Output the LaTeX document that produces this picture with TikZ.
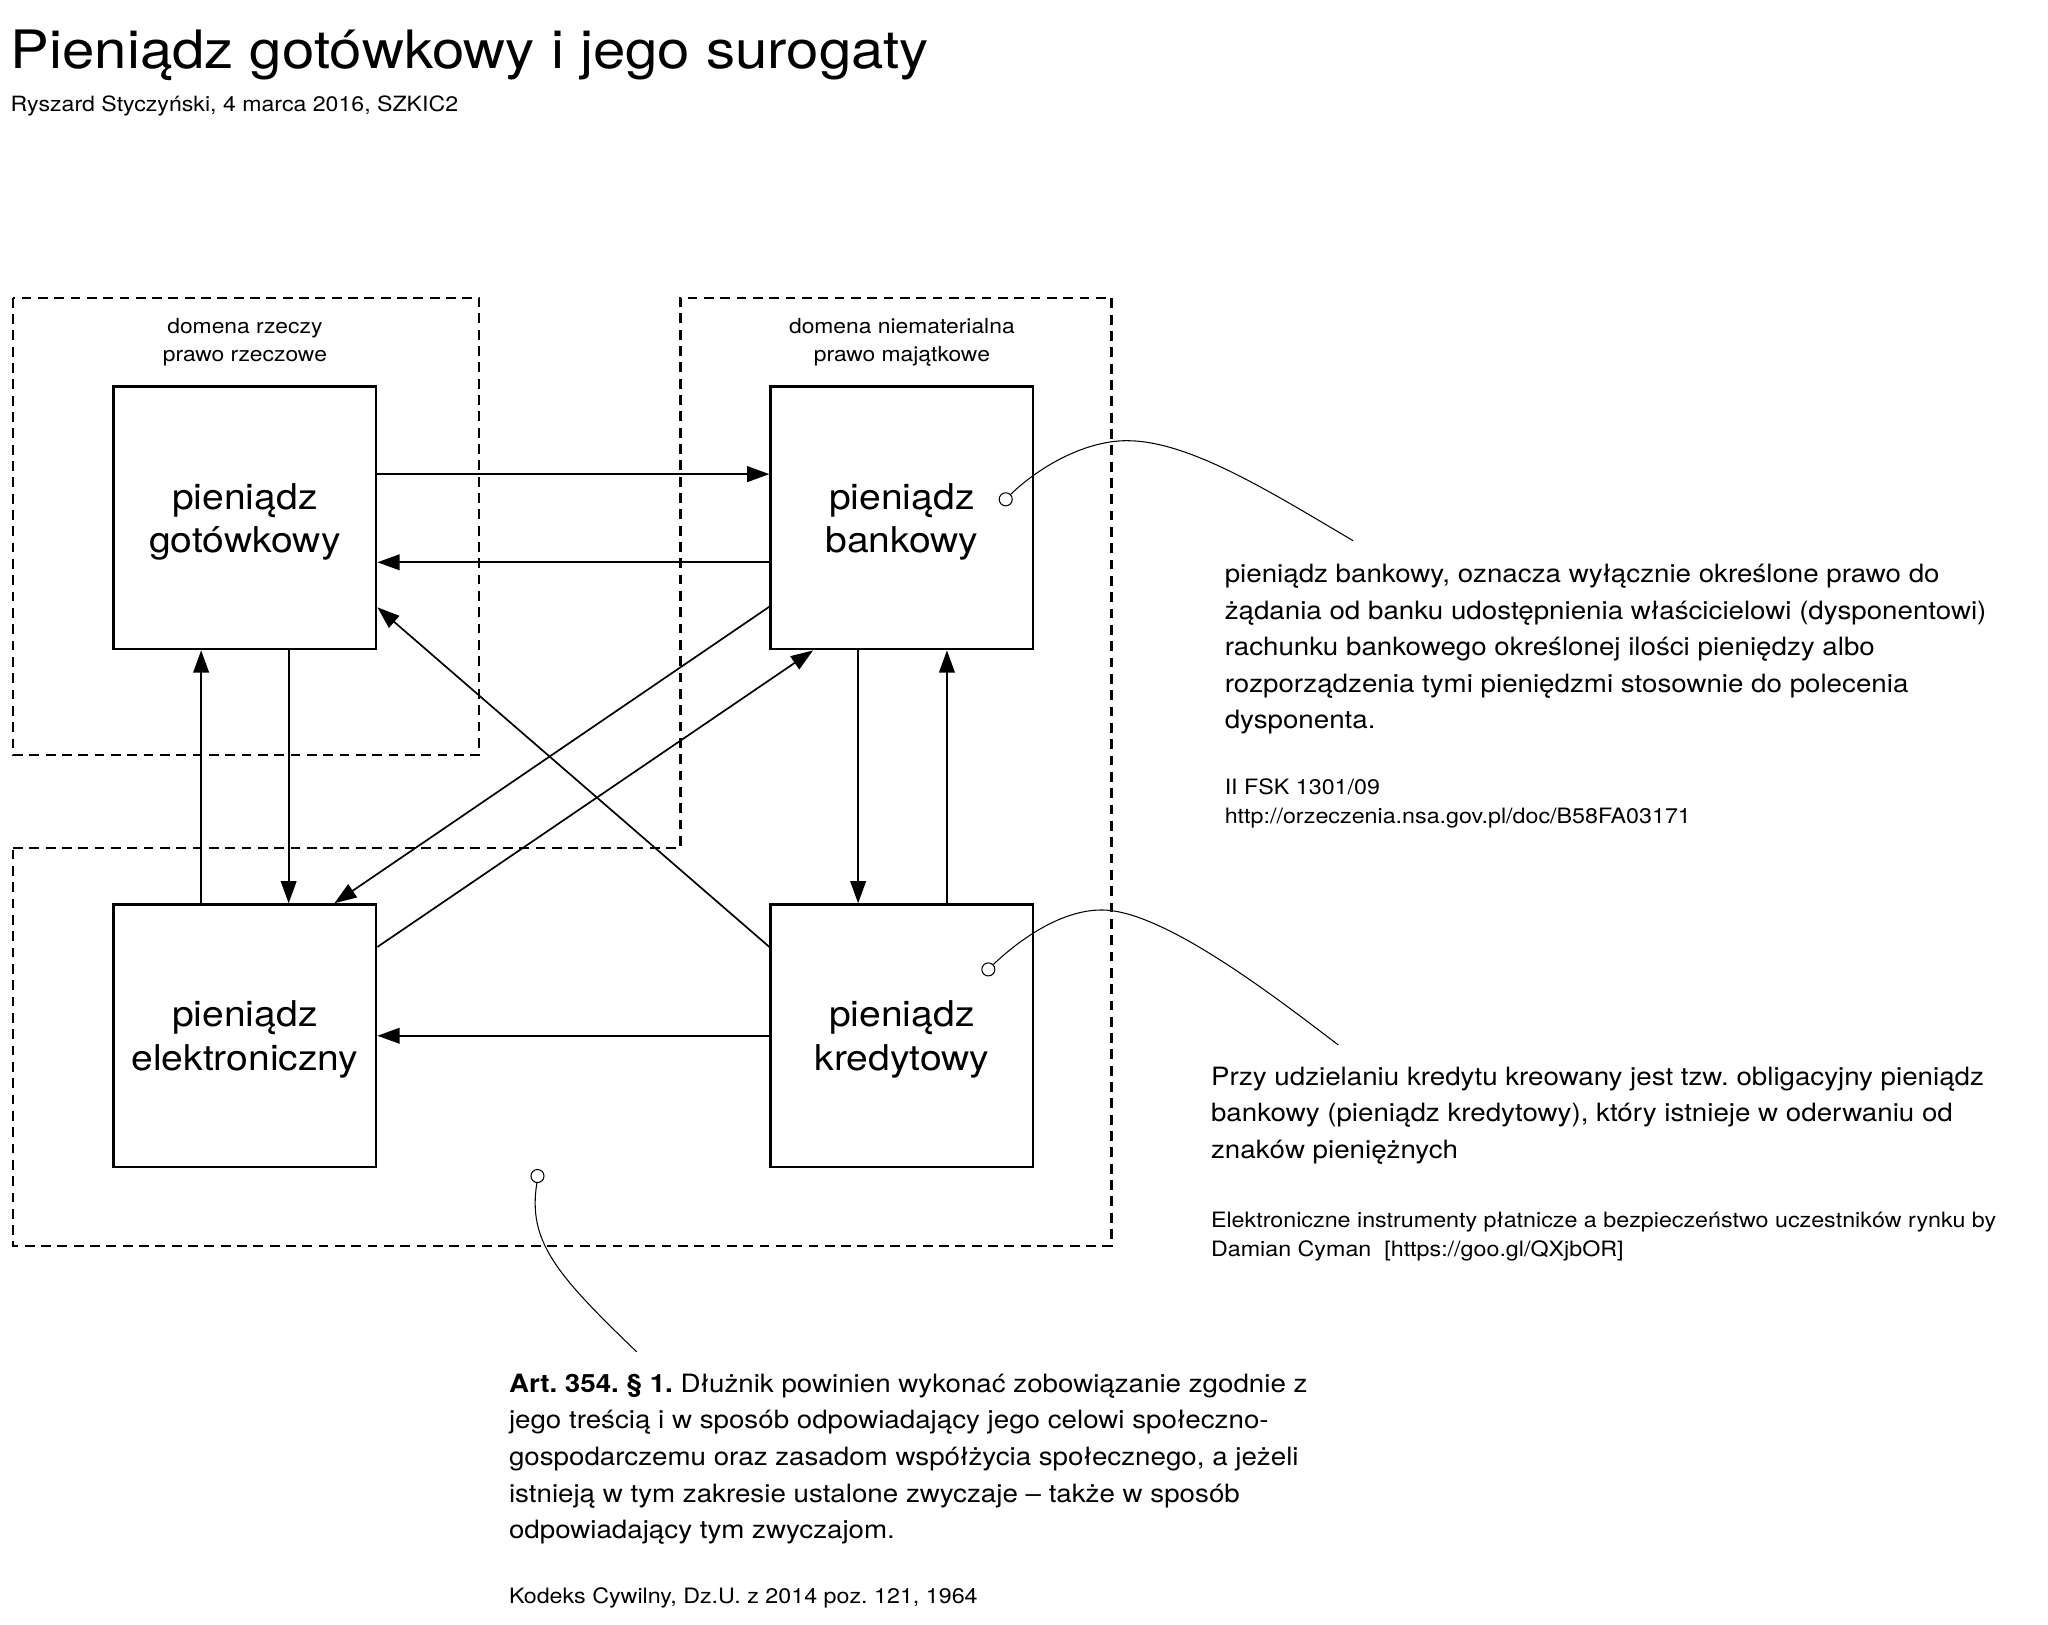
\documentclass[tikz,border=0pt]{standalone}
\usepackage{fontspec}
\setmainfont[FakeStretch=1.1]{TeX Gyre Heros}
\usetikzlibrary{arrows.meta}
\begin{document}
\frenchspacing
\begin{tikzpicture}[x=1pt,y=-1pt,
  box/.style={draw, line width=1.9pt, minimum width=201pt, minimum height=201pt, inner sep=0pt, align=center, font=\fontsize{27.2}{33}\selectfont},
  arr/.style={line width=1.3pt, -{Triangle[length=17pt,width=12pt]}},
  dombox/.style={dash pattern=on 7.5pt off 5pt, line width=1.6pt},
  dlabel/.style={align=center, anchor=base, inner sep=0pt, font=\fontsize{15.9}{21.7}\selectfont},
  body/.style={align=left, anchor=base west, inner sep=0pt, font=\fontsize{19.3}{28}\selectfont},
  small/.style={align=left, anchor=base west, inner sep=0pt, font=\fontsize{16.2}{22.5}\selectfont},
  pin/.style={circle, draw, fill=white, line width=0.8pt, minimum size=10pt, inner sep=0pt},
  callout/.style={line width=0.8pt},
]
\fill[white] (0,0) rectangle (1568,1244);
\useasboundingbox (0,0) rectangle (1568,1244);

% title
\node[anchor=base west, inner sep=0pt, font=\fontsize{40.5}{44}\selectfont] (title) at (8,52.3) {Pieniądz gotówkowy i jego surogaty};
\node[anchor=base west, inner sep=0pt, font=\fontsize{16.1}{20}\selectfont] (sub) at (8,85.5) {Ryszard Styczyński, 4 marca 2016, SZKIC2};

% domains
\draw[dombox] (10,228) rectangle (367,578);
\draw[dombox] (10,649) -- (521,649) -- (521,228) -- (851,228) -- (851,954) -- (10,954) -- cycle;
\node[dlabel] (dl1) at (187.5,276.9) {domena rzeczy\\prawo rzeczowe};
\node[dlabel] (dl2) at (690.5,276.9) {domena niematerialna\\prawo majątkowe};

% boxes
\node[box] (A) at (187.5,396.5) {\rule{0pt}{25.5pt}pieniądz\\gotówkowy};
\node[box] (B) at (690.5,396.5) {\rule{0pt}{25.5pt}pieniądz\\bankowy};
\node[box] (C) at (187.5,793) {\rule{0pt}{25.5pt}pieniądz\\elektroniczny};
\node[box] (D) at (690.5,793) {\rule{0pt}{25.5pt}pieniądz\\kredytowy};

% arrows
\draw[arr] ([yshift=33.5pt]A.east) -- ([yshift=33.5pt]B.west);
\draw[arr] ([yshift=-34pt]B.west) -- ([yshift=-34pt]A.east);
\draw[arr] ([yshift=68pt]D.west) -- ([yshift=-68.5pt]A.east);
\draw[arr] ([yshift=-68pt]B.west) -- ([xshift=68.5pt]C.north);
\draw[arr] ([yshift=68pt]C.east) -- ([xshift=-68pt]B.south);
\draw[arr] ([xshift=33.5pt]A.south) -- ([xshift=33.5pt]C.north);
\draw[arr] ([xshift=-33.5pt]C.north) -- ([xshift=-33.5pt]A.south);
\draw[arr] ([xshift=-33.5pt]B.south) -- ([xshift=-33.5pt]D.north);
\draw[arr] ([xshift=34.5pt]D.north) -- ([xshift=34.5pt]B.south);
\draw[arr] (D.west) -- (C.east);

% callouts
\node[pin] (c1) at (770,382.3) {};
\node[pin] (c2) at (756.7,742.2) {};
\node[pin] (c3) at (411.5,900.4) {};
\coordinate (e1) at (1036,414);
\coordinate (e2) at (1024.7,800.1);
\coordinate (e3) at (487.5,1035);
\draw[callout] (c1.45) .. controls (794.6,358.2) and (830,337.4) .. (862.6,337.4)
  .. controls (910,337.4) and (971,375.6) .. (e1);
\draw[callout] (c2.45) .. controls (782.5,717.6) and (813.5,696.7) .. (843.5,696.7)
  .. controls (890,696.7) and (974.7,762) .. (e2);
\draw[callout] (c3.265) .. controls (404,950) and (425,975) .. (e3);

% texts (anchor = baseline of the last line)
\node[body] (t1) at (937.5,558) {pieniądz bankowy, oznacza wyłącznie określone prawo do\\
żądania od banku udostępnienia właścicielowi (dysponentowi)\\
rachunku bankowego określonej ilości pieniędzy albo\\
rozporządzenia tymi pieniędzmi stosownie do polecenia\\
dysponenta.};
\node[small] (s1) at (937.5,630.5) {II FSK 1301/09\\http://orzeczenia.nsa.gov.pl/doc/B58FA03171};

\node[body] (t2) at (927,887) {Przy udzielaniu kredytu kreowany jest tzw. obligacyjny pieniądz\\
bankowy (pieniądz kredytowy), który istnieje w oderwaniu od\\
znaków pieniężnych};
\node[small] (s2) at (927,962) {Elektroniczne instrumenty płatnicze a bezpieczeństwo uczestników rynku by\\
Damian Cyman\ \ [https://goo.gl/QXjbOR]};

\node[body] (t3) at (389.5,1178) {\textbf{Art. 354. § 1.} Dłużnik powinien wykonać zobowiązanie zgodnie z\\
jego treścią i w sposób odpowiadający jego celowi społeczno-\\
gospodarczemu oraz zasadom współżycia społecznego, a jeżeli\\
istnieją w tym zakresie ustalone zwyczaje – także w sposób\\
odpowiadający tym zwyczajom.};
\node[small] (s3) at (389.5,1227.6) {Kodeks Cywilny, Dz.U. z 2014 poz. 121, 1964};
\end{tikzpicture}
\end{document}
